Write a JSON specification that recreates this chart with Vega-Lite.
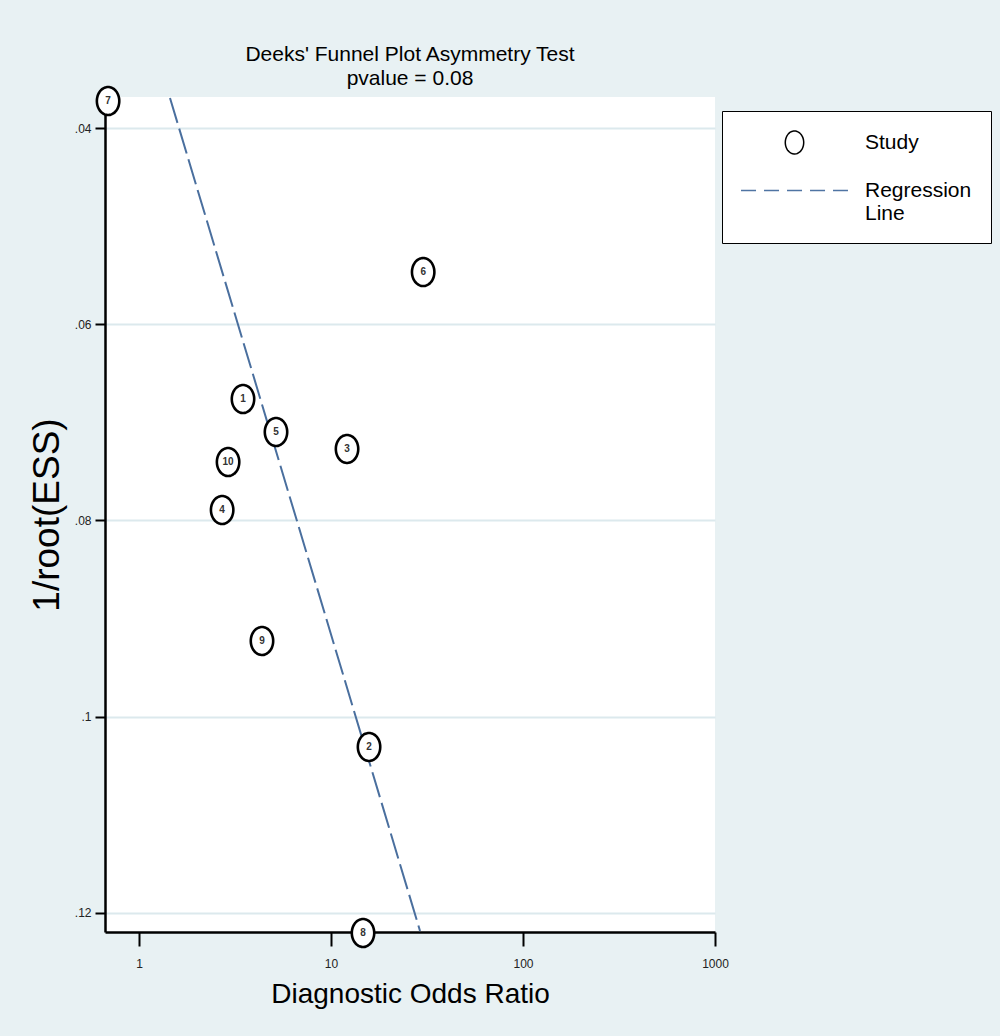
{
  "$schema": "https://vega.github.io/schema/vega-lite/v6.json",
  "width": 610,
  "height": 835,
  "autosize": {"type": "none"},
  "padding": {"left": 105, "top": 97, "right": 285, "bottom": 104},
  "background": "#e8f1f3",
  "config": {
    "view": {"fill": "white", "stroke": null},
    "font": "Liberation Sans, Arial, sans-serif",
    "legend": {
      "orient": "none",
      "legendX": 617,
      "legendY": 14,
      "direction": "vertical",
      "fillColor": "white",
      "strokeColor": "black",
      "padding": 19,
      "symbolSize": 529,
      "symbolOffset": 41,
      "labelOffset": 58,
      "labelFontSize": 21,
      "labelColor": "black",
      "labelLimit": 300,
      "rowPadding": 21
    }
  },
  "title": {
    "text": ["Deeks' Funnel Plot Asymmetry Test", "pvalue =  0.08"],
    "fontSize": 21,
    "lineHeight": 24,
    "fontWeight": "normal",
    "color": "black",
    "anchor": "middle",
    "frame": "group",
    "offset": 9,
    "dy": 37,
    "baseline": "bottom"
  },
  "datasets": {
    "studies": [
      {"study": "1", "dor": 3.48, "inv_root_ess": 0.06762},
      {"study": "2", "dor": 15.78, "inv_root_ess": 0.10308},
      {"study": "3", "dor": 12.12, "inv_root_ess": 0.07271},
      {"study": "4", "dor": 2.71, "inv_root_ess": 0.07893},
      {"study": "5", "dor": 5.17, "inv_root_ess": 0.07098},
      {"study": "6", "dor": 30.2, "inv_root_ess": 0.05468},
      {"study": "7", "dor": 0.69, "inv_root_ess": 0.03725},
      {"study": "8", "dor": 14.68, "inv_root_ess": 0.12204},
      {"study": "9", "dor": 4.37, "inv_root_ess": 0.09228},
      {"study": "10", "dor": 2.91, "inv_root_ess": 0.07404}
    ],
    "regression": [
      {"dor": 1.45, "inv_root_ess": 0.03694},
      {"dor": 29.08, "inv_root_ess": 0.12183}
    ]
  },
  "layer": [
    {
      "data": {"name": "regression"},
      "mark": {"type": "line", "stroke": "#4a6f9e", "strokeWidth": 2, "strokeDash": [26, 6], "clip": false},
      "encoding": {
        "x": {
          "field": "dor", "type": "quantitative",
          "scale": {"type": "log", "domain": [0.665, 1000], "nice": false},
          "axis": {
            "values": [1, 10, 100, 1000], "format": "d", "grid": false,
            "tickSize": 14, "tickWidth": 2, "tickColor": "black",
            "domainColor": "black", "domainWidth": 2.5,
            "labelFontSize": 12, "labelColor": "#222", "labelPadding": 12, "labelFlush": false,
            "title": "Diagnostic Odds Ratio", "titleFontSize": 28, "titleFontWeight": "normal",
            "titleColor": "black", "titlePadding": 11
          }
        },
        "y": {
          "field": "inv_root_ess", "type": "quantitative",
          "scale": {"domain": [0.03684, 0.12194], "reverse": true, "nice": false, "zero": false},
          "axis": {
            "values": [0.04, 0.06, 0.08, 0.1, 0.12],
            "labelExpr": "substring(format(datum.value, '.2~f'), 1)",
            "grid": true, "gridColor": "#dce9ed", "gridWidth": 2,
            "tickSize": 10, "tickWidth": 2, "tickColor": "black",
            "domainColor": "black", "domainWidth": 2.5,
            "labelFontSize": 12, "labelColor": "#222", "labelPadding": 4, "labelFlush": false,
            "title": "1/root(ESS)", "titleFontSize": 37,
            "titleFontWeight": "normal", "titleColor": "black", "titlePadding": 8
          }
        }
      }
    },
    {
      "data": {"name": "studies"},
      "mark": {"type": "point", "filled": true, "fill": "white", "strokeWidth": 2.6, "size": 784, "opacity": 1, "clip": false},
      "encoding": {
        "x": {"field": "dor", "type": "quantitative"},
        "y": {"field": "inv_root_ess", "type": "quantitative"},
        "shape": {
          "datum": "Study",
          "scale": {
            "domain": ["Study", "Regression Line"],
            "range": ["M0,-1A0.8,1 0 1,1 0,1A0.8,1 0 1,1 0,-1Z", "M-4.65,0L4.65,0"]
          },
          "legend": {
            "title": null,
            "labelExpr": "datum.label == 'Regression Line' ? ['Regression', 'Line'] : datum.label"
          }
        },
        "stroke": {
          "datum": "Study",
          "scale": {
            "domain": ["Study", "Regression Line"],
            "range": ["black", "#4f74a3"]
          },
          "legend": {
            "title": null,
            "labelExpr": "datum.label == 'Regression Line' ? ['Regression', 'Line'] : datum.label"
          }
        },
        "strokeDash": {
          "datum": "Study",
          "scale": {
            "domain": ["Study", "Regression Line"],
            "range": [[1, 0], [15, 8]]
          },
          "legend": {
            "title": null,
            "labelExpr": "datum.label == 'Regression Line' ? ['Regression', 'Line'] : datum.label"
          }
        }
      }
    },
    {
      "data": {"name": "studies"},
      "mark": {"type": "text", "fontSize": 10, "fontWeight": "bold", "color": "#333", "align": "center", "baseline": "middle", "clip": false},
      "encoding": {
        "x": {"field": "dor", "type": "quantitative"},
        "y": {"field": "inv_root_ess", "type": "quantitative"},
        "text": {"field": "study"}
      }
    }
  ]
}
